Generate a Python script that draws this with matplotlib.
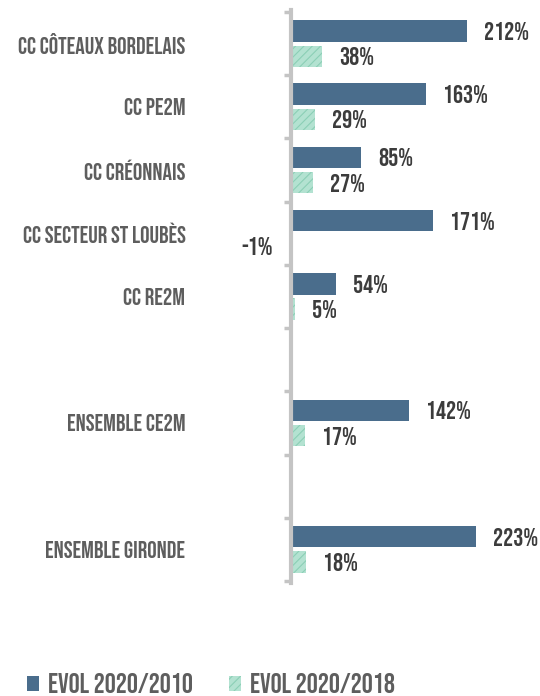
import matplotlib
matplotlib.use("Agg")
import matplotlib.pyplot as plt
from matplotlib.patches import Patch
from matplotlib import font_manager as fm
import numpy as np

categories = ["CC CÔTEAUX BORDELAIS", "CC PE2M", "CC CRÉONNAIS", "CC SECTEUR ST LOUBÈS",
              "CC RE2M", "", "ENSEMBLE CE2M", "", "ENSEMBLE GIRONDE"]
evol_2010 = [212, 163, 85, 171, 54, None, 142, None, 223]
evol_2018 = [38, 29, 27, -1, 5, None, 17, None, 18]
series_names = ["EVOL 2020/2010", "EVOL 2020/2018"]

available = set(f.name for f in fm.fontManager.ttflist)
pref = ["Bebas Neue", "Oswald", "Fjalla One", "League Gothic", "Pathway Gothic One",
        "Barlow Condensed"]
main = next((p for p in pref if p in available), "DejaVu Sans")
FONT = [main, "DejaVu Sans"]

BLUE = "#4a6d8c"
GREEN = "#b3e2d1"
HATCH = "#8ccfb6"
GREY_AX = "#c4c4c4"
TXT = "#3c3c3c"
LBL = "#5e5e5e"

plt.rcParams['hatch.color'] = HATCH
plt.rcParams['hatch.linewidth'] = 0.8

fig = plt.figure(figsize=(5.4, 6.96), dpi=100)
W, H = 540, 696
left, right, top, bottom = 291, 540, 12, 581
ax = fig.add_axes([left / W, 1 - bottom / H, (right - left) / W, (bottom - top) / H])

n = len(categories)
y = np.arange(n)
px_per_unit = 0.828
ax.set_xlim(0, (right - left) / px_per_unit)
ax.set_ylim(n - 0.5, -0.5)

bh = 0.34
off = 0.2
VFS = 18
for i in range(n):
    v1, v2 = evol_2010[i], evol_2018[i]
    if v1 is not None:
        ax.barh(y[i] - off, v1, height=bh, color=BLUE, edgecolor="none", zorder=2)
        ax.text(v1 + 20.5, y[i] - off, f"{v1}%", va="center", ha="left",
                fontsize=VFS, fontweight="bold", color=TXT, family=FONT, clip_on=False)
    if v2 is not None:
        ax.barh(y[i] + off, v2, height=bh, color=GREEN, hatch="////",
                edgecolor=HATCH, linewidth=0, zorder=2)
        if v2 >= 0:
            ax.text(v2 + 20.5, y[i] + off, f"{v2}%", va="center", ha="left",
                    fontsize=VFS, fontweight="bold", color=TXT, family=FONT)
        else:
            ax.text(v2 - 20.5, y[i] + off, f"{v2}%", va="center", ha="right",
                    fontsize=VFS, fontweight="bold", color=TXT, family=FONT,
                    clip_on=False)

for s in ["top", "right", "bottom"]:
    ax.spines[s].set_visible(False)
ax.spines["left"].set_color(GREY_AX)
ax.spines["left"].set_linewidth(3)
ax.spines["left"].set_bounds(n - 0.5 + 0.03, -0.5 - 0.03)
ax.set_xticks([])

ax.set_yticks(y)
ax.set_yticklabels(categories, family=FONT, fontweight="bold", fontsize=17, color=LBL)
ax.tick_params(axis="y", which="major", length=0, pad=76)
ax.set_yticks(np.arange(n + 1) - 0.5, minor=True)
ax.tick_params(axis="y", which="minor", length=5, width=2.5, color=GREY_AX, direction="out")

handles = [Patch(facecolor=BLUE, edgecolor="none"),
           Patch(facecolor=GREEN, hatch="////", edgecolor=HATCH, linewidth=0)]
fig.legend(handles, series_names, loc="lower left", bbox_to_anchor=(0.05, 0.004),
           ncol=2, frameon=False, handlelength=0.43, handleheight=0.43,
           handletextpad=0.32, columnspacing=1.3, borderpad=0, borderaxespad=0,
           prop={"family": FONT, "weight": "bold", "size": 20},
           labelcolor=LBL)

fig.savefig("out.png", dpi=100)
